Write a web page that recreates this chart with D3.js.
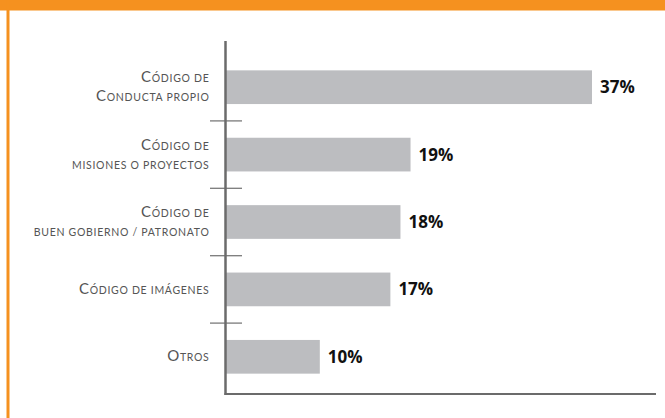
<!DOCTYPE html>
<html><head><meta charset="utf-8">
<script src="https://cdn.jsdelivr.net/npm/d3@7"></script>
<style>html,body{margin:0;padding:0;background:#fff;}svg{display:block;}</style>
</head><body>
<svg id="c" width="665" height="418"></svg>
<script>
const categories = [
  ["Código de", "Conducta propio"],
  ["Código de", "misiones o proyectos"],
  ["Código de", "buen gobierno / patronato"],
  ["Código de imágenes"],
  ["Otros"]
];
const values = [37, 19, 18, 17, 10];
const valueLabels = ["37%", "19%", "18%", "17%", "10%"];

const svg = d3.select("#c");
const orange = "#f5911f";
const axisColor = "#6b6b6b";
const barColor = "#bcbdc0";

// frame
svg.append("rect").attr("x",0).attr("y",0).attr("width",665).attr("height",10.5).attr("fill",orange);
svg.append("rect").attr("x",6.5).attr("y",0).attr("width",3).attr("height",418).attr("fill",orange);

const axisX = 225.5;
const y = d3.scaleBand().domain(d3.range(values.length)).range([53.5, 390.5]).paddingInner(0.5).paddingOuter(0.25);
const x = d3.scaleLinear().domain([0, 37]).range([219, 592]);

// bars
svg.selectAll("rect.bar").data(values).join("rect").attr("class","bar")
  .attr("x", axisX).attr("y",(d,i)=>y(i))
  .attr("width", d=>x(d)-axisX).attr("height", y.bandwidth())
  .attr("fill", barColor);

// value labels
svg.selectAll("text.val").data(values).join("text").attr("class","val")
  .attr("x", d=>x(d)+8).attr("y",(d,i)=>y(i)+y.bandwidth()/2+6)
  .attr("font-family","'Open Sans', sans-serif").attr("font-weight","bold")
  .attr("font-size",17).attr("fill","#111")
  .text((d,i)=>valueLabels[i]);

// separators
const seps = d3.range(values.length-1).map(i => y(i)+y.bandwidth()+y.step()*y.paddingInner()/2);
svg.selectAll("line.sep").data(seps).join("line").attr("class","sep")
  .attr("x1",210).attr("x2",242).attr("y1",d=>d).attr("y2",d=>d)
  .attr("stroke","#7a7a7a").attr("stroke-width",1.3);

// axes
svg.append("line").attr("x1",axisX).attr("x2",axisX).attr("y1",41).attr("y2",395)
  .attr("stroke",axisColor).attr("stroke-width",2.5);
svg.append("line").attr("x1",axisX-1).attr("x2",656).attr("y1",394).attr("y2",394)
  .attr("stroke",axisColor).attr("stroke-width",2);

// small caps labels
const bigSize = 15, smallSize = 10.5;
function addSmallCaps(textSel, str){
  let runs = [];
  for (const ch of str){
    const big = ch !== ch.toLowerCase() && ch === ch.toUpperCase();
    if (runs.length && runs[runs.length-1].big === big) runs[runs.length-1].s += ch;
    else runs.push({big, s: ch});
  }
  runs.forEach(r=>{
    textSel.append("tspan").attr("font-size", r.big?bigSize:smallSize).text(r.big ? r.s : r.s.toUpperCase());
  });
}
categories.forEach((lines,i)=>{
  const cy = y(i)+y.bandwidth()/2;
  const lh = 19;
  lines.forEach((ln,j)=>{
    const by = cy + 4.5 + (j - (lines.length-1)/2)*lh;
    const t = svg.append("text").attr("x",209.5).attr("y",by).attr("text-anchor","end")
      .attr("font-family","Lato, 'Open Sans', sans-serif").attr("fill","#555")
      .attr("letter-spacing",0.7);
    addSmallCaps(t, ln);
  });
});
</script>
</body></html>
